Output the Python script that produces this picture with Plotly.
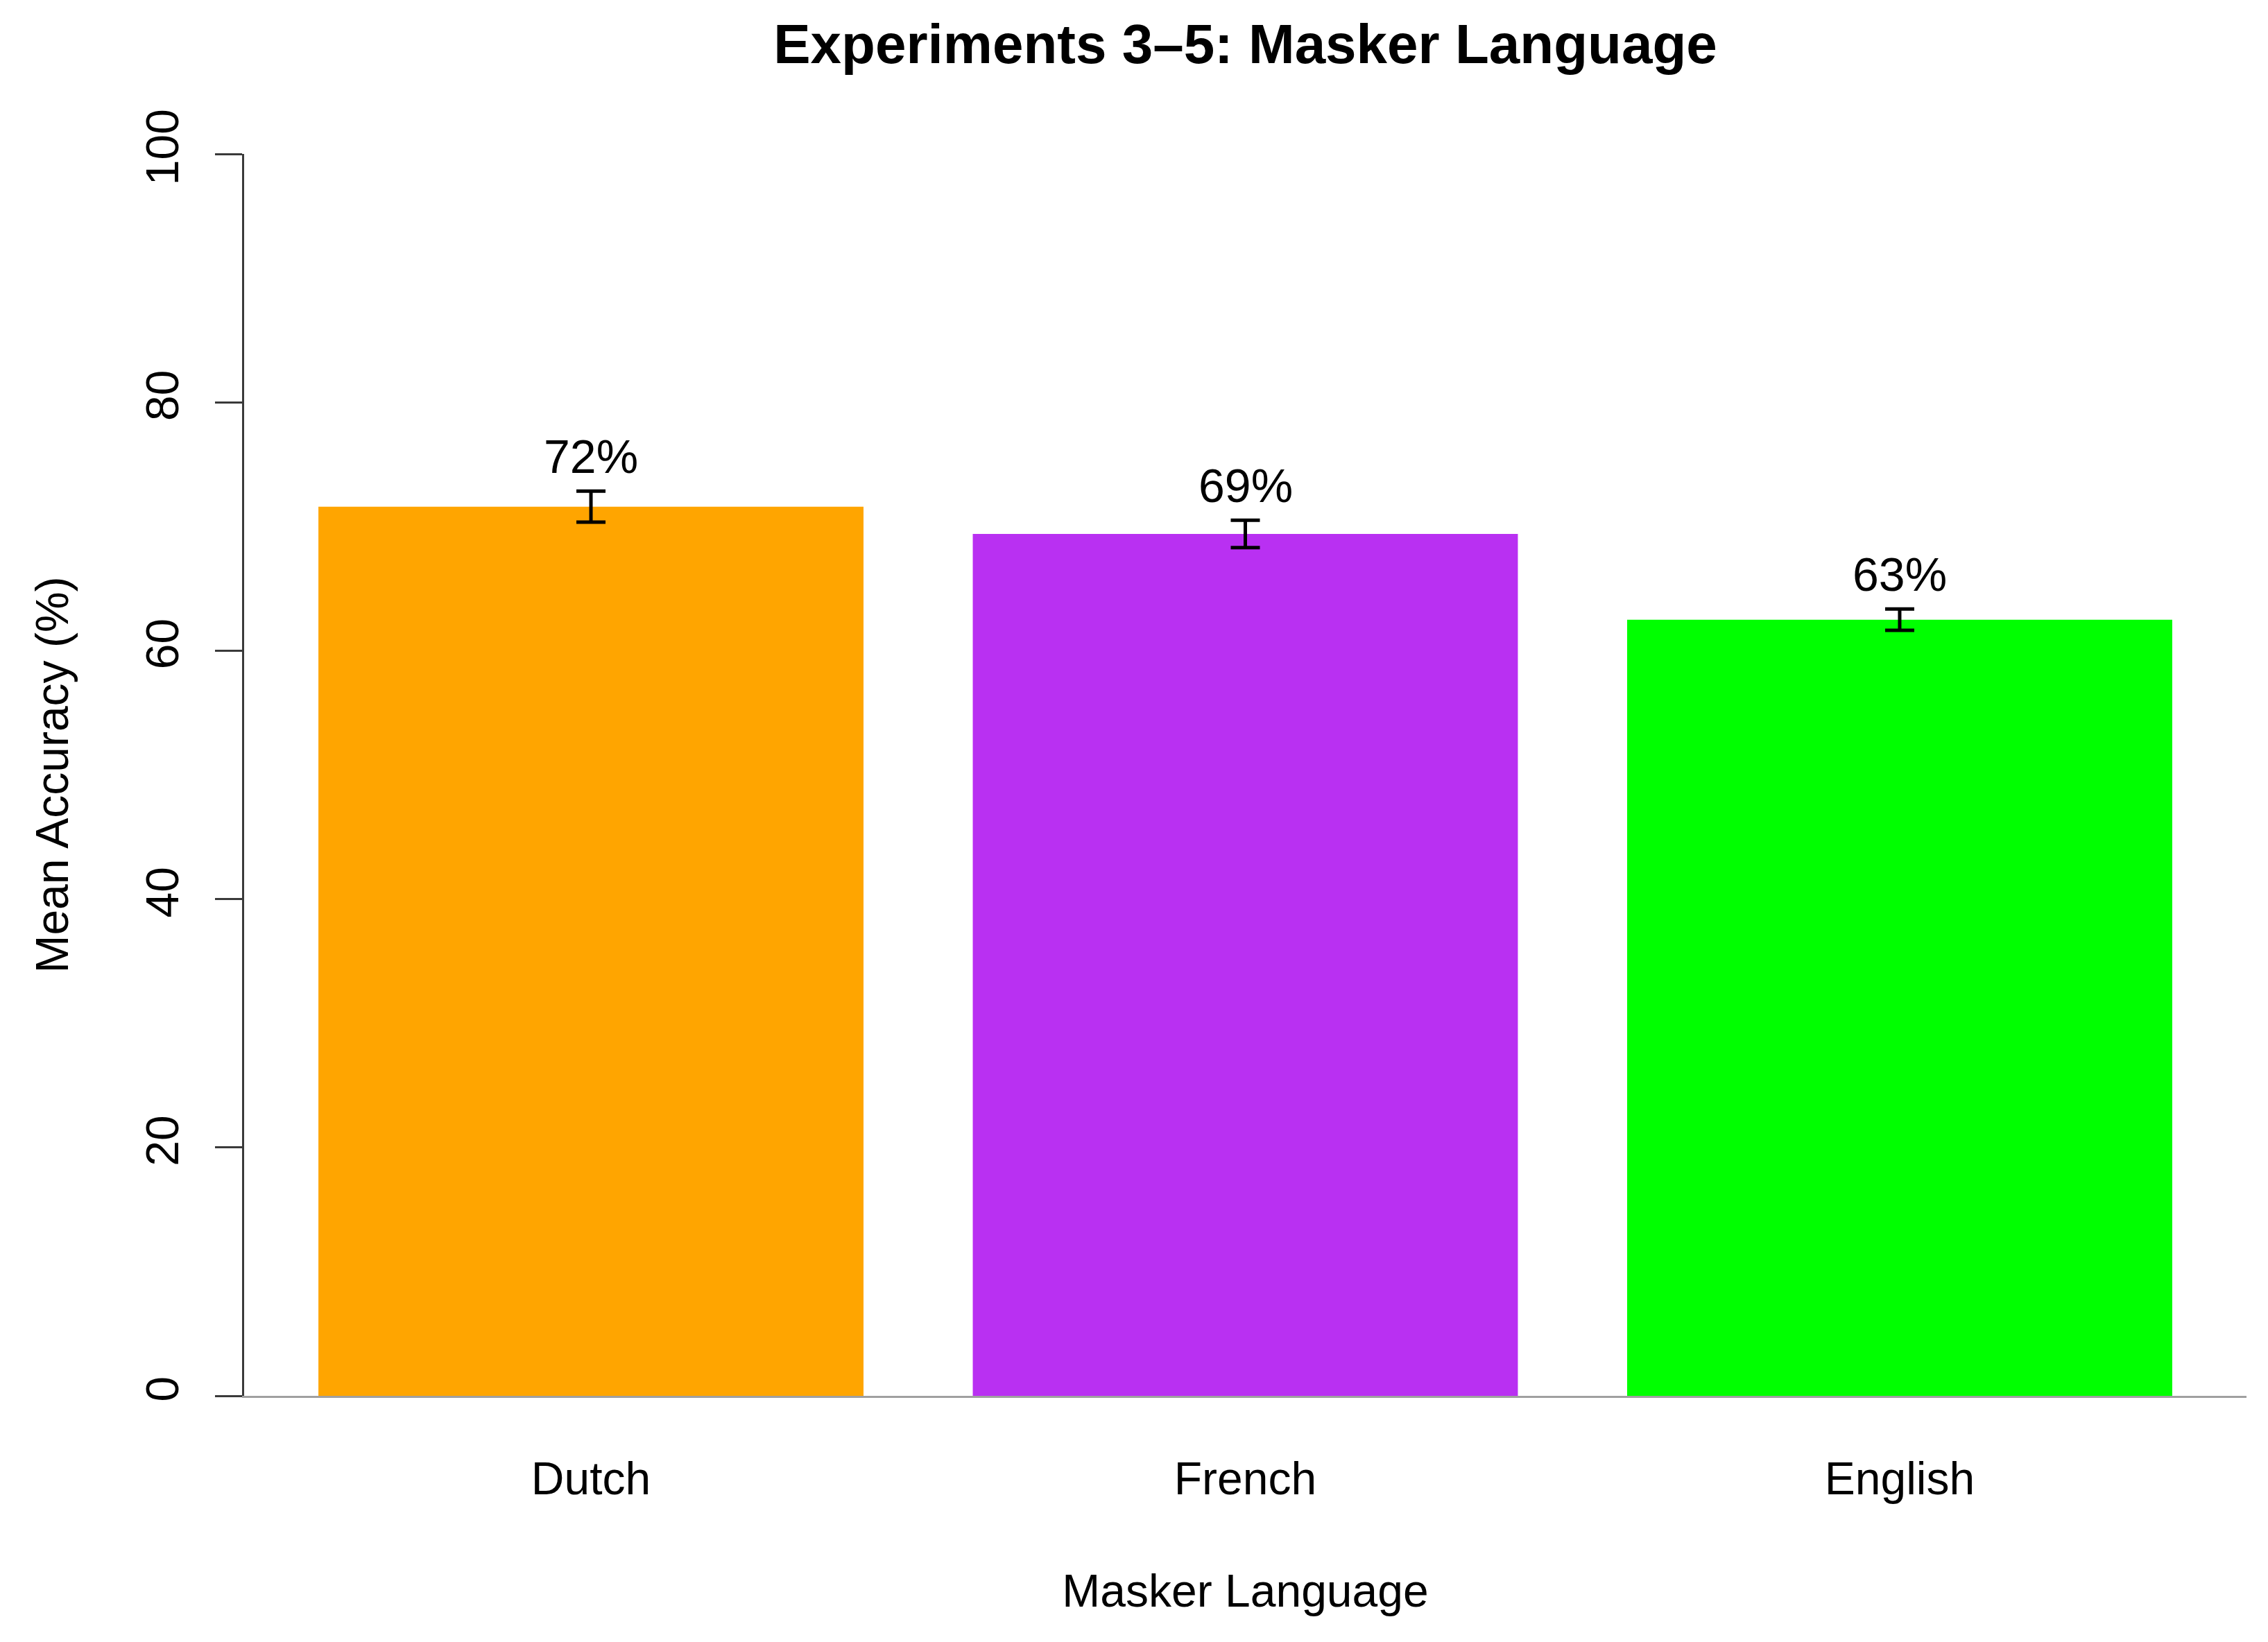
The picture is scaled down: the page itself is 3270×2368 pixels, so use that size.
import plotly.graph_objects as go

categories = ["Dutch", "French", "English"]
mean_accuracy = [71.6, 69.4, 62.5]
std_error = [1.25, 1.1, 0.86]
bar_labels = ["72%", "69%", "63%"]
bar_colors = ["#FFA500", "#B930F2", "#00FF00"]
y_ticks = [0, 20, 40, 60, 80, 100]

FONT = "Liberation Sans, Arial, Helvetica, sans-serif"

# page body has an 8px default margin; size the figure to fit inside it
W, H = 3254, 2352

fig = go.Figure()
fig.add_trace(go.Bar(
    x=categories,
    y=mean_accuracy,
    marker=dict(color=bar_colors, line=dict(width=0)),
    error_y=dict(type="data", array=std_error, visible=True,
                 color="black", thickness=5, width=21),
    showlegend=False,
    hoverinfo="skip",
))

for c, m, s, lab in zip(categories, mean_accuracy, std_error, bar_labels):
    fig.add_annotation(x=c, y=m + s, text=lab, showarrow=False,
                       yanchor="middle", yshift=50,
                       font=dict(family=FONT, size=68, color="black"))

fig.update_layout(
    width=W, height=H,
    margin=dict(l=344, r=23, t=214, b=347, pad=0),
    paper_bgcolor="white", plot_bgcolor="white",
    bargap=0.167,
    font=dict(family=FONT, size=66, color="black"),
    title=dict(text="<b>Experiments 3\u20135: Masker Language</b>",
               x=0.5, xref="paper", xanchor="center",
               y=1 - 55 / H, yref="container", yanchor="middle",
               font=dict(family=FONT, size=80, color="black")),
    xaxis=dict(
        type="category", categoryorder="array", categoryarray=categories,
        range=[-0.53, 2.53], showgrid=False, zeroline=False,
        showline=True, linecolor="#a0a0a0", linewidth=3,
        ticks="", tickfont=dict(family=FONT, size=66, color="black"),
        ticklabelstandoff=60,
        title=dict(text="Masker Language", standoff=103,
                   font=dict(family=FONT, size=66, color="black")),
        automargin=False,
    ),
    yaxis=dict(
        range=[0, 100], tickvals=y_ticks, ticktext=[str(v) for v in y_ticks],
        showgrid=False, zeroline=False,
        showline=True, linecolor="#3a3a3a", linewidth=3,
        ticks="outside", ticklen=39, tickwidth=3, tickcolor="#3a3a3a",
        tickangle=-90, tickfont=dict(family=FONT, size=66, color="black"),
        ticklabelstandoff=27,
        title=dict(text="Mean Accuracy (%)", standoff=77,
                   font=dict(family=FONT, size=66, color="black")),
        automargin=False,
    ),
)

fig.write_html("out.html")
